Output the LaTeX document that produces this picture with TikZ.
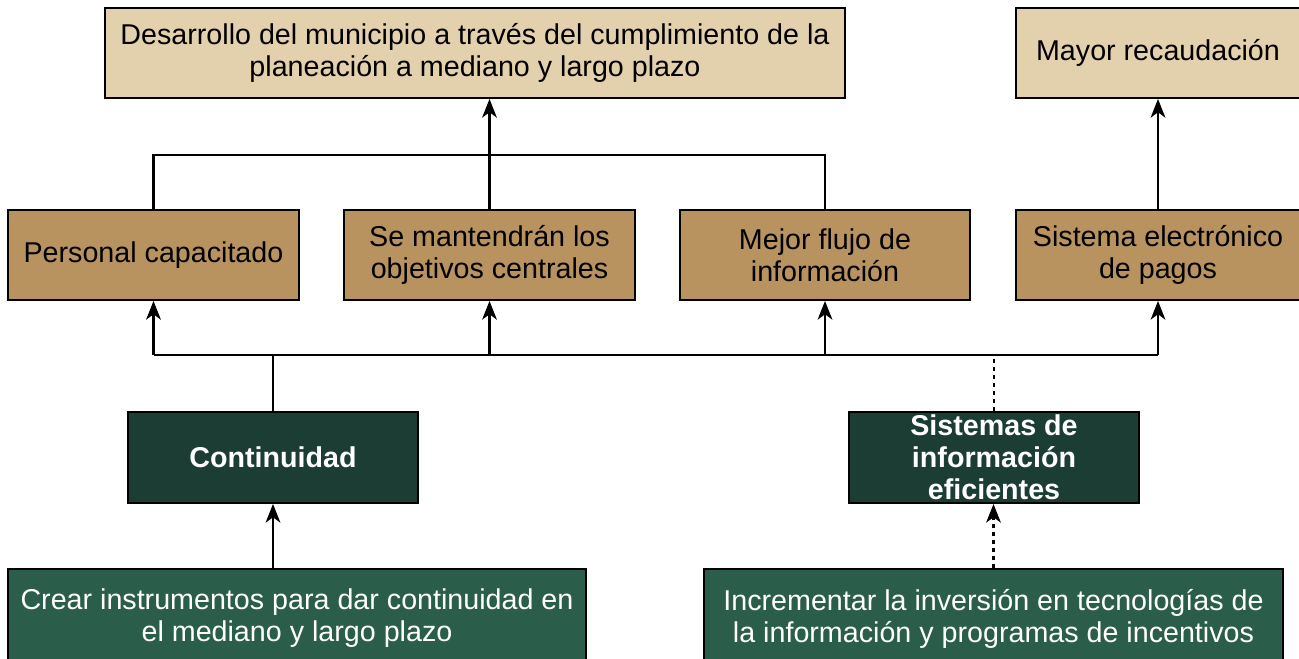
\documentclass[tikz,border=0pt]{standalone}
\usepackage{fontspec}
\setmainfont{Liberation Sans}
\usepackage{tikz}
\usetikzlibrary{arrows.meta}

\definecolor{tanlight}{RGB}{227,209,174}
\definecolor{tandark}{RGB}{184,146,95}
\definecolor{greendark}{RGB}{27,61,51}
\definecolor{greenmid}{RGB}{42,94,75}

\begin{document}
\begin{tikzpicture}[x=0.75pt,y=0.75pt,yscale=-1,xscale=1,
	box/.style={draw=black,line width=1.4pt,inner sep=0pt,align=center,font=\fontsize{21.5}{24}\selectfont},
	goalbox/.style={box,fill=tanlight,minimum width=#1*0.75pt,minimum height=67.5pt},
	effbox/.style={box,fill=tandark,minimum width=#1*0.75pt,minimum height=67.5pt},
	meanbox/.style={box,fill=greendark,text=white,font=\fontsize{21.5}{24}\selectfont\bfseries,minimum width=217.5pt,minimum height=68.25pt},
	actbox/.style={box,fill=greenmid,text=white,minimum width=#1*0.75pt,minimum height=74.25pt},
	link/.style={line width=1.6pt},
	arrow/.style={link,-{Stealth[length=14pt,width=11pt,inset=4pt]}}]
	\useasboundingbox (0,0) rectangle (1299,658);
	
	%Shape: Rectangle [top row]
	\node [goalbox=740] (dev) at (475,53) {Desarrollo del municipio a través del cumplimiento de la\\planeación a mediano y largo plazo};
	\node [goalbox=284] (may) at (1158,53) {Mayor recaudación};
	
	%Shape: Rectangle [second row]
	\node [effbox=291] (per) at (153.5,255) {Personal capacitado};
	\node [effbox=291] (obj) at (489.5,255) {Se mantendrán los\\objetivos centrales};
	\node [effbox=290] (flu) at (825,255) {Mejor flujo de\\información};
	\node [effbox=284] (pag) at (1158,255) {Sistema electrónico\\de pagos};
	
	%Shape: Rectangle [means]
	\node [meanbox] (con) at (273,457.5) {Continuidad};
	\node [meanbox] (sis) at (994,457.5) {Sistemas de\\información\\eficientes};
	
	%Shape: Rectangle [actions]
	\node [actbox=578] (cre) at (297,618.5) {Crear instrumentos para dar continuidad en\\el mediano y largo plazo};
	\node [actbox=579] (inc) at (993.5,618.5) {Incrementar la inversión en tecnologías de\\la información y programas de incentivos};
	
	% junctions
	\coordinate (jt) at (490,155);
	\coordinate (jb) at (273,355);
	
	%Straight Lines [upper bus]
	\draw [link] (per.north) |- (jt) -| (flu.north);
	\draw [arrow] (obj.north) -- (obj.north |- dev.south);
	\draw [arrow] (pag.north) -- (may.south);
	
	%Straight Lines [lower bus]
	\draw [link] (per.south |- jb) -- (pag.south |- jb);
	\draw [link] (con.north) -- (jb);
	\foreach \n in {per,obj,flu,pag}
		\draw [arrow] (\n.south |- jb) -- (\n.south);
	\draw [link,dashed] (sis.north) -- (sis.north |- jb);
	
	%Straight Lines [actions to means]
	\draw [arrow] (cre.north -| con.south) -- (con.south);
	\draw [arrow,dashed] (inc.north) -- (inc.north |- sis.south);
	
\end{tikzpicture}
\end{document}
